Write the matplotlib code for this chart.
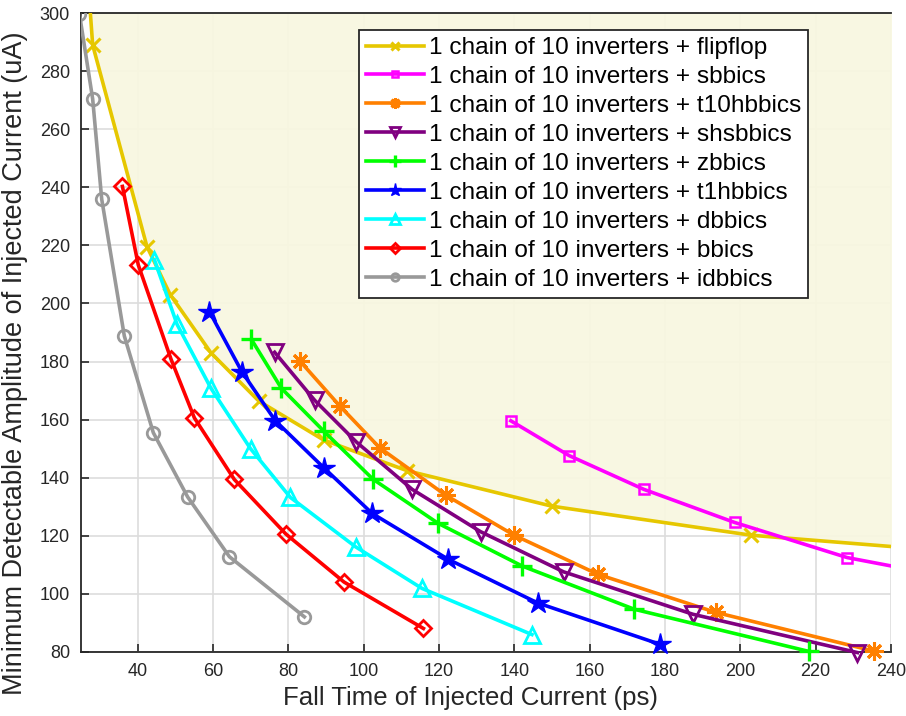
import matplotlib
matplotlib.use("Agg")
import matplotlib.pyplot as plt
from matplotlib.patches import Rectangle

plt.rcParams['font.family'] = ['Liberation Sans', 'DejaVu Sans']

# Fall time (ps) vs minimum detectable amplitude (uA) per sensor variant
ff_x = [27.2, 28.1, 42.5, 48.7, 59.5, 72.2, 89.4, 111.6, 150.0, 202.9, 245.0]
ff_y = [305.0, 289.0, 219.6, 203.0, 183.0, 166.4, 153.0, 142.4, 130.2, 120.2, 115.8]

sb_x = [139.1, 154.6, 174.4, 198.5, 228.4, 245.0]
sb_y = [159.6, 147.6, 136.0, 124.6, 112.5, 108.4]

t10h_x = [83.1, 93.7, 104.3, 121.8, 140.0, 162.3, 193.6, 235.5]
t10h_y = [180.2, 164.7, 150.3, 134.0, 120.2, 106.7, 93.6, 80.3]

shs_x = [76.4, 87.0, 98.1, 112.9, 131.1, 153.1, 187.4, 231.1]
shs_y = [183.2, 166.7, 152.3, 136.0, 121.4, 107.6, 93.0, 79.8]

z_x = [70.2, 78.2, 89.4, 102.5, 119.8, 142.1, 171.9, 218.2]
z_y = [187.7, 170.8, 156.1, 139.5, 124.3, 109.6, 94.7, 80.2]

t1h_x = [59.1, 67.7, 76.6, 89.4, 102.3, 122.5, 146.2, 178.8]
t1h_y = [197.2, 176.5, 159.6, 143.5, 127.7, 111.9, 96.9, 82.6]

d_x = [44.5, 50.5, 59.5, 70.0, 80.6, 97.9, 115.5, 144.7]
d_y = [215.0, 192.8, 170.8, 150.0, 133.2, 116.2, 101.9, 86.0]

b_x = [36.0, 40.2, 48.9, 55.1, 65.7, 79.4, 94.8, 115.9]
b_y = [240.3, 213.3, 180.8, 160.6, 139.4, 120.6, 104.1, 88.1]

id_x = [24.6, 28.1, 30.5, 36.5, 44.2, 53.3, 64.4, 84.3]
id_y = [299.6, 270.4, 235.9, 188.8, 155.5, 133.4, 112.8, 92.1]

x_ticks = [40, 60, 80, 100, 120, 140, 160, 180, 200, 220, 240]
y_ticks = [80, 100, 120, 140, 160, 180, 200, 220, 240, 260, 280, 300]

prefix = "1 chain of 10 inverters + "
series = [
    (ff_x, ff_y, "flipflop", "#E6C700", dict(marker="x", ms=10, mew=2.2)),
    (sb_x, sb_y, "sbbics", "#FF00FF", dict(marker="s", ms=7, mew=1.8, mfc="none")),
    (t10h_x, t10h_y, "t10hbbics", "#FF8000", dict(marker=(8, 2, 0), ms=13, mew=2.2)),
    (shs_x, shs_y, "shsbbics", "#800080", dict(marker="v", ms=11, mew=2.0, mfc="none")),
    (z_x, z_y, "zbbics", "#00FF00", dict(marker="+", ms=14, mew=2.4)),
    (t1h_x, t1h_y, "t1hbbics", "#0000FF", dict(marker="*", ms=16, mew=1.0)),
    (d_x, d_y, "dbbics", "#00FFFF", dict(marker="^", ms=11, mew=2.0, mfc="none")),
    (b_x, b_y, "bbics", "#FF0000", dict(marker="D", ms=8, mew=2.0, mfc="none")),
    (id_x, id_y, "idbbics", "#999999", dict(marker="o", ms=9, mew=2.0, mfc="none")),
]

fig = plt.figure(figsize=(9.06, 7.16), dpi=100)
ax = fig.add_axes([0.0894, 0.0894, 0.894, 0.8924])

ax.set_xlim(25, 240)
ax.set_ylim(80, 300)

ax.grid(True, color="#DDDDDD", linewidth=1.2, zorder=0)
ax.set_axisbelow(True)

# region above the flipflop curve
ax.fill_between(ff_x, ff_y, 320, color="#F8F7E0", alpha=0.93, linewidth=0, zorder=1)

clip_rect = Rectangle((0, -0.04), 1, 1.04, transform=ax.transAxes)
for xs, ys, name, col, mk in series:
    line, = ax.plot(xs, ys, color=col, lw=2.6, label=prefix + name, zorder=3, **mk)
    line.set_clip_path(clip_rect)

ax.set_xticks(x_ticks)
ax.set_yticks(y_ticks)
ax.tick_params(direction="in", length=6, width=1.2, labelsize=13, colors="#262626",
               pad=8)
for s in ["left", "bottom", "top"]:
    ax.spines[s].set_color("#262626")
    ax.spines[s].set_linewidth(1.3)
ax.spines["right"].set_visible(False)

ax.set_xlabel("Fall Time of Injected Current (ps)", fontsize=18.5, color="#262626")
ax.set_ylabel("Minimum Detectable Amplitude of Injected Current (uA)", fontsize=19.5,
              color="#262626")
ax.xaxis.set_label_coords(0.4815, -0.053)
ax.yaxis.set_label_coords(-0.066, 0.452)

leg = ax.legend(loc="upper right", bbox_to_anchor=(0.898, 0.974), fontsize=17.6,
                handlelength=2.35, handletextpad=0.2, borderpad=0.3, labelspacing=0.28,
                markerscale=0.6, fancybox=False, framealpha=1, edgecolor="#262626",
                borderaxespad=0)
leg.get_frame().set_linewidth(1.3)
leg.set_zorder(5)

fig.savefig("out.png", dpi=100)
